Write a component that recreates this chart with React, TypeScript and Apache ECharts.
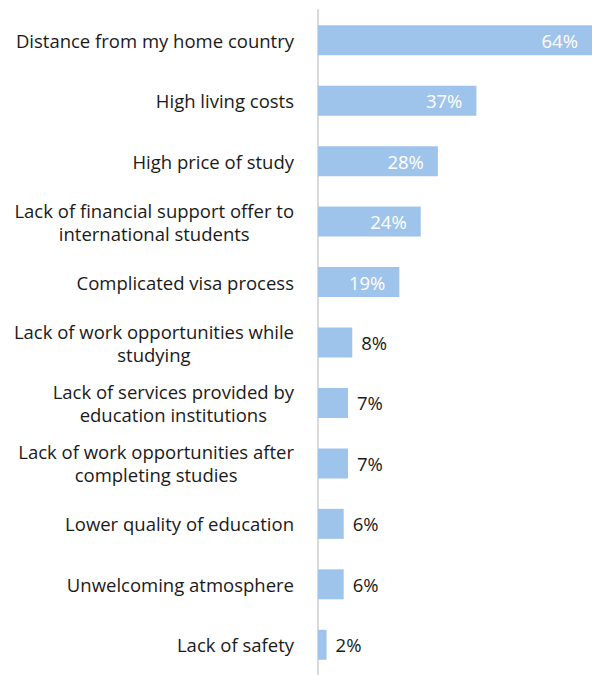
import React, { useEffect, useRef } from "react";
import * as echarts from "echarts";

const categories: string[] = [
  "Distance from my home country",
  "High living costs",
  "High price of study",
  "Lack of financial support offer to\ninternational students",
  "Complicated visa process",
  "Lack of work opportunities while\nstudying",
  "Lack of services provided by\neducation institutions",
  "Lack of work opportunities after\ncompleting studies",
  "Lower quality of education",
  "Unwelcoming atmosphere",
  "Lack of safety",
];

const values: number[] = [64, 37, 28, 24, 19, 8, 7, 7, 6, 6, 2];

const insideThreshold = 15;

export default function App() {
  const ref = useRef<HTMLDivElement>(null);
  useEffect(() => {
    if (!ref.current) return;
    const chart = echarts.init(ref.current, undefined, { renderer: "svg" });
    const font = "'Open Sans', Lato, sans-serif";
    chart.setOption({
      animation: false,
      grid: { left: 318, right: -6, top: 10, bottom: -5, containLabel: false },
      xAxis: {
        type: "value",
        min: 0,
        max: 64,
        show: false,
      },
      yAxis: {
        type: "category",
        inverse: true,
        data: categories,
        axisLine: { show: true, lineStyle: { color: "#d9d9d9", width: 2 } },
        axisTick: { show: false },
        axisLabel: {
          margin: 24,
          color: "#1a1a1a",
          fontFamily: font,
          fontSize: 18.5,
          lineHeight: 23,
          align: "right",
          formatter: (v: string) =>
            v
              .split("\n")
              .map((l) => "{c|" + l + "}")
              .join("\n"),
          rich: {
            c: {
              align: "center",
              color: "#1a1a1a",
              fontFamily: font,
              fontSize: 18.5,
              lineHeight: 23,
            },
          },
        },
        splitLine: { show: false },
      },
      series: [
        {
          type: "bar",
          barWidth: 30,
          itemStyle: { color: "#9fc4ec" },
          data: values.map((v) => ({
            value: v,
            label: {
              show: true,
              position: v >= insideThreshold ? "insideRight" : "right",
              distance: v >= insideThreshold ? 14 : 9,
              color: v >= insideThreshold ? "#ffffff" : "#1a1a1a",
              fontFamily: font,
              fontSize: 18.5,
              formatter: "{c}%",
            },
          })),
        },
      ],
    });
    return () => chart.dispose();
  }, []);
  return (
    <div
      ref={ref}
      style={{ position: "fixed", left: 0, top: 0, width: 592, height: 675, background: "#fff" }}
    />
  );
}
